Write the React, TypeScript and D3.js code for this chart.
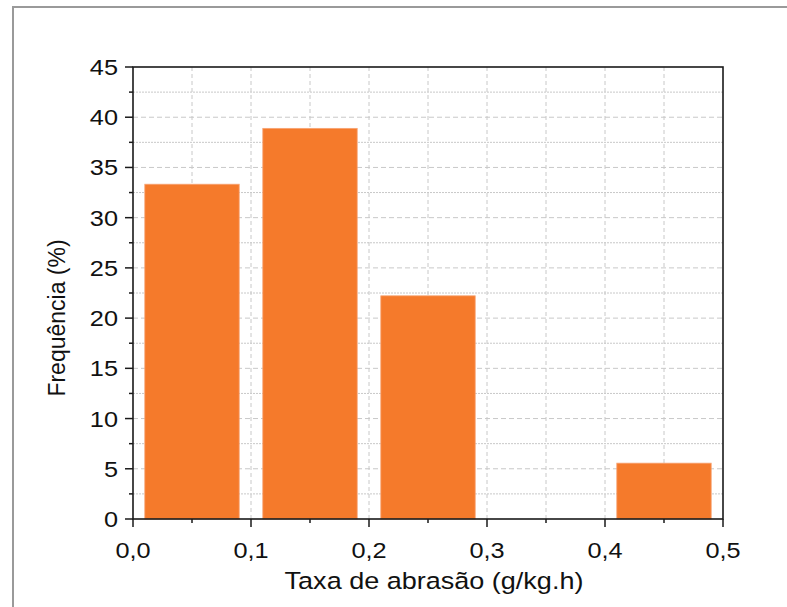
import React from 'react';
import * as d3 from 'd3';

// histogram bins (g/kg.h) and frequency (%)
const binStarts = [0.0, 0.1, 0.2, 0.3, 0.4];
const frequencies = [33.33, 38.89, 22.22, 0, 5.56];
const xTicks = [0, 0.1, 0.2, 0.3, 0.4, 0.5];
const yTicks = [0, 5, 10, 15, 20, 25, 30, 35, 40, 45];

const W = 787;
const H = 607;
const margin = { left: 133, right: 64, top: 67, bottom: 88 };
const font = 'Liberation Sans, Arial, sans-serif';
const fs = 22;
const sx = 1.15; // the reference glyphs look a bit wide

const App = () => {
  const x = d3.scaleLinear().domain([0, 0.5]).range([margin.left, W - margin.right]);
  const y = d3.scaleLinear().domain([0, 45]).range([H - margin.bottom, margin.top]);

  const xMinor = d3.range(0.05, 0.5, 0.1);
  const yMinor = d3.range(2.5, 45, 5);
  const x0 = x(0), x1 = x(0.5), y0 = y(0), y1 = y(45);
  const gridColor = '#c8c8c8';
  const fmt = (v: number) => d3.format('.1f')(v).replace('.', ',');

  const Label = ({ px, py, anchor, size = fs, children }: any) => (
    <g transform={`translate(${px},${py}) scale(${sx},1)`}>
      <text textAnchor={anchor} fontFamily={font} fontSize={size} fill="#111">{children}</text>
    </g>
  );

  return (
    <svg width={W} height={H} style={{ position: 'absolute', left: 0, top: 0, background: '#fff' }}>
      {/* outer frame */}
      <rect x={13} y={7} width={W + 20} height={H + 20} fill="#fff" stroke="#9a9a9a" strokeWidth={2} />

      {/* grid */}
      {xTicks.slice(1, -1).map(t => (
        <line key={'gx' + t} x1={x(t)} x2={x(t)} y1={y0} y2={y1} stroke={gridColor} strokeDasharray="4,3" />
      ))}
      {xMinor.map(t => (
        <line key={'gxm' + t} x1={x(t)} x2={x(t)} y1={y0} y2={y1} stroke={gridColor} strokeDasharray="4,3" />
      ))}
      {yTicks.slice(1, -1).map(t => (
        <line key={'gy' + t} x1={x0} x2={x1} y1={y(t)} y2={y(t)} stroke={gridColor} strokeDasharray="5,3" />
      ))}
      {yMinor.map(t => (
        <line key={'gym' + t} x1={x0} x2={x1} y1={y(t)} y2={y(t)} stroke={gridColor} strokeDasharray="2,1" />
      ))}

      {/* bars */}
      {binStarts.map((b, i) => frequencies[i] > 0 && (
        <rect
          key={'bar' + i}
          x={x(b + 0.01)}
          y={y(frequencies[i])}
          width={x(b + 0.09) - x(b + 0.01)}
          height={y0 - y(frequencies[i])}
          fill="#F57A2B"
          stroke="#F7A474"
          strokeWidth={0.8}
        />
      ))}

      {/* axis box */}
      <rect x={x0} y={y1} width={x1 - x0} height={y0 - y1} fill="none" stroke="#1a1a1a" strokeWidth={1.6} />

      {/* x ticks */}
      {xTicks.map(t => (
        <g key={'xt' + t}>
          <line x1={x(t)} x2={x(t)} y1={y0} y2={y0 + 8} stroke="#1a1a1a" strokeWidth={1.5} />
          <Label px={x(t)} py={y0 + 39} anchor="middle">{fmt(t)}</Label>
        </g>
      ))}
      {xMinor.map(t => (
        <line key={'xm' + t} x1={x(t)} x2={x(t)} y1={y0} y2={y0 + 4} stroke="#1a1a1a" strokeWidth={1.5} />
      ))}

      {/* y ticks */}
      {yTicks.map(t => (
        <g key={'yt' + t}>
          <line x1={x0 - 8} x2={x0} y1={y(t)} y2={y(t)} stroke="#1a1a1a" strokeWidth={1.5} />
          <Label px={x0 - 15} py={y(t) + 8} anchor="end">{t}</Label>
        </g>
      ))}
      {yMinor.map(t => (
        <line key={'ym' + t} x1={x0 - 4} x2={x0} y1={y(t)} y2={y(t)} stroke="#1a1a1a" strokeWidth={1.5} />
      ))}

      {/* axis titles */}
      <Label px={434} py={589} anchor="middle" size={23.5}>Taxa de abrasão (g/kg.h)</Label>
      <text
        transform={`translate(${65},${318}) rotate(-90)`}
        textAnchor="middle"
        fontFamily={font}
        fontSize={23}
        fill="#111"
      >
        Frequência (%)
      </text>
    </svg>
  );
};

export default App;
